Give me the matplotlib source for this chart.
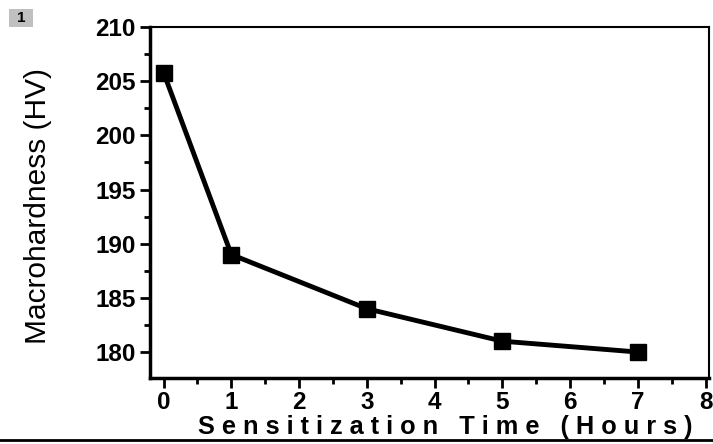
import matplotlib
matplotlib.use('Agg')
import matplotlib.pyplot as plt
from matplotlib.patches import Rectangle
from matplotlib.lines import Line2D
from matplotlib.ticker import MultipleLocator

# Data
time_hours = [0, 1, 3, 5, 7]
hardness_hv = [205.8, 189.0, 184.0, 181.0, 180.0]

x_ticks = [0, 1, 2, 3, 4, 5, 6, 7, 8]
y_ticks = [180, 185, 190, 195, 200, 205, 210]

plt.rcParams['font.family'] = ['Liberation Sans', 'DejaVu Sans']

fig = plt.figure(figsize=(7.13, 4.44), dpi=100)
ax = fig.add_axes([0.2104, 0.1486, 0.7840, 0.7904])

ax.plot(time_hours, hardness_hv, color='black', lw=3.5, marker='s',
        markersize=12, markerfacecolor='black', markeredgecolor='black')

ax.set_xlim(-0.2, 8.05)
ax.set_ylim(177.6, 210)
ax.set_xticks(x_ticks)
ax.set_yticks(y_ticks)
ax.xaxis.set_minor_locator(MultipleLocator(0.5))
ax.yaxis.set_minor_locator(MultipleLocator(2.5))

ax.tick_params(axis='both', which='major', direction='out', length=7, width=2,
               labelsize=17.5)
ax.tick_params(axis='x', which='major', pad=2)
ax.tick_params(axis='both', which='minor', direction='out', length=4, width=2)
ax.tick_params(top=False, right=False, which='both')
for lab in ax.get_xticklabels() + ax.get_yticklabels():
    lab.set_fontweight('bold')

for side in ['left', 'bottom']:
    ax.spines[side].set_linewidth(2.5)
for side in ['top', 'right']:
    ax.spines[side].set_linewidth(1.5)

ax.set_ylabel('Macrohardness (HV)', fontsize=21.5)
ax.yaxis.set_label_coords(-0.175, 0.49)
ax.set_xlabel('S e n s i t i z a t i o n   T i m e   ( H o u r s )',
              fontsize=18.3, fontweight='bold')
ax.xaxis.set_label_coords(0.528, -0.105)

# panel label box and bottom rule
fig.patches.append(Rectangle((9 / 713, 1 - 27 / 444), 24 / 713, 18 / 444,
                             transform=fig.transFigure, facecolor='#c0c0c0',
                             edgecolor='none'))
fig.text(21 / 713, 1 - 18 / 444, '1', ha='center', va='center',
         fontsize=11, fontweight='bold')
fig.lines.append(Line2D([0, 1], [1 - 440 / 444, 1 - 440 / 444],
                        transform=fig.transFigure, color='black', lw=2))

fig.savefig('out.png', dpi=100)
